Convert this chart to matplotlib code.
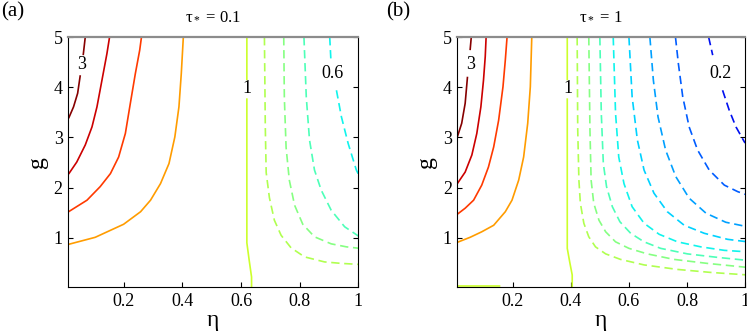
import numpy as np
import matplotlib.pyplot as plt

plt.rcParams['font.family'] = ['Liberation Serif', 'DejaVu Serif']
plt.rcParams['mathtext.fontset'] = 'custom'
plt.rcParams['mathtext.rm'] = 'Liberation Serif'
plt.rcParams['mathtext.it'] = 'Liberation Serif'

nan = float('nan')

# contour lines, (eta, g) points; nan marks a label gap
# panel (a), tau* = 0.1
a_30 = [(0.011, 3.38), (0.028, 3.61), (0.042, 3.88), (0.051, 4.24), (nan, nan),
        (0.061, 4.64), (0.068, 5.0)]
a_25 = [(0.011, 2.27), (0.039, 2.51), (0.068, 2.85), (0.091, 3.21), (0.108, 3.61),
        (0.125, 4.14), (0.142, 4.67), (0.151, 5.0)]
a_20 = [(0.011, 1.52), (0.074, 1.75), (0.119, 2.02), (0.154, 2.28), (0.182, 2.61),
        (0.205, 3.08), (0.222, 3.68), (0.239, 4.27), (0.254, 4.74), (0.260, 5.0)]
a_15 = [(0.011, 0.87), (0.102, 1.01), (0.199, 1.27), (0.257, 1.52), (0.291, 1.75),
        (0.325, 2.08), (0.354, 2.48), (0.374, 3.01), (0.388, 3.61), (0.396, 4.27),
        (0.403, 5.0)]
a_10 = [(0.620, 5.0), (0.620, 4.14), (nan, nan), (0.620, 3.78), (0.620, 2.0),
        (0.620, 0.9), (0.628, 0.55), (0.636, 0.22), (0.636, 0.02)]
a_09 = [(0.680, 5.0), (0.683, 3.2), (0.686, 2.3), (0.697, 1.8), (0.714, 1.35),
        (0.737, 1.05), (0.771, 0.80), (0.817, 0.62), (0.885, 0.52), (0.943, 0.49),
        (1.005, 0.47)]
a_08 = [(0.746, 5.0), (0.748, 3.8), (0.754, 2.8), (0.765, 2.15), (0.783, 1.65),
        (0.811, 1.27), (0.851, 1.02), (0.908, 0.88), (0.96, 0.82), (1.005, 0.79)]
a_07 = [(0.815, 5.0), (0.823, 3.8), (0.834, 2.95), (0.851, 2.35), (0.874, 1.95),
        (0.908, 1.55), (0.954, 1.22), (1.005, 1.02)]
a_06 = [(0.903, 5.0), (0.907, 4.55), (nan, nan), (0.926, 3.94), (0.943, 3.41),
        (0.966, 2.88), (0.994, 2.35), (1.005, 2.22)]

# panel (b), tau* = 1
b_30 = [(0.010, 3.01), (0.025, 3.28), (0.037, 3.68), (0.045, 4.21), (nan, nan),
        (0.054, 4.74), (0.058, 5.0)]
b_25 = [(0.010, 2.08), (0.037, 2.31), (0.060, 2.65), (0.077, 3.08), (0.091, 3.61),
        (0.100, 4.14), (0.106, 4.61), (0.109, 5.0)]
b_20 = [(0.010, 1.47), (0.037, 1.59), (0.066, 1.75), (0.094, 2.05), (0.117, 2.41),
        (0.135, 2.81), (0.152, 3.34), (0.167, 4.01), (0.175, 4.54), (0.181, 5.0)]
b_15 = [(0.010, 0.91), (0.054, 1.01), (0.094, 1.12), (0.135, 1.25), (0.175, 1.52),
        (0.198, 1.75), (0.221, 2.15), (0.238, 2.61), (0.252, 3.28), (0.261, 4.01),
        (0.266, 5.0)]
b_10 = [(0.388, 5.0), (0.388, 4.14), (nan, nan), (0.388, 3.78), (0.388, 0.79),
        (0.397, 0.5), (0.405, 0.26), (0.405, 0.02), (nan, nan),
        (0.010, 0.04), (0.158, 0.04)]
b_09 = [(0.422, 5.0), (0.424, 3.15), (0.428, 2.15), (0.433, 1.69), (0.445, 1.29),
        (0.462, 1.02), (0.485, 0.82), (0.520, 0.68), (0.571, 0.57), (0.652, 0.46),
        (0.767, 0.37), (0.882, 0.31), (1.008, 0.26)]
b_08 = [(0.462, 5.0), (0.466, 3.15), (0.470, 2.15), (0.479, 1.69), (0.497, 1.35),
        (0.520, 1.12), (0.554, 0.92), (0.600, 0.79), (0.663, 0.68), (0.755, 0.57),
        (0.870, 0.49), (1.008, 0.41)]
b_07 = [(0.500, 5.0), (0.505, 3.48), (0.512, 2.48), (0.523, 2.02), (0.543, 1.62),
        (0.569, 1.32), (0.606, 1.09), (0.652, 0.92), (0.709, 0.79), (0.801, 0.68),
        (0.905, 0.61), (1.008, 0.55)]
b_06 = [(0.546, 5.0), (0.554, 3.48), (0.565, 2.61), (0.583, 2.08), (0.611, 1.62),
        (0.652, 1.29), (0.704, 1.07), (0.767, 0.92), (0.847, 0.82), (0.928, 0.75),
        (1.008, 0.72)]
b_05 = [(0.600, 5.0), (0.611, 3.81), (0.629, 2.95), (0.652, 2.35), (0.686, 1.89),
        (0.732, 1.52), (0.790, 1.25), (0.859, 1.09), (0.939, 0.97), (1.008, 0.92)]
b_04 = [(0.672, 5.0), (0.684, 4.14), (0.700, 3.41), (0.726, 2.75), (0.761, 2.22),
        (0.807, 1.79), (0.865, 1.49), (0.933, 1.31), (1.008, 1.22)]
b_03 = [(0.760, 5.0), (0.770, 4.47), (0.785, 3.81), (0.807, 3.21), (0.836, 2.75),
        (0.876, 2.35), (0.928, 2.05), (0.974, 1.92), (1.008, 1.85)]
b_02 = [(0.874, 5.0), (0.888, 4.64), (nan, nan), (0.922, 3.94), (0.945, 3.54),
        (0.968, 3.21), (0.997, 2.91), (1.008, 2.85)]

levels_a = [3, 2.5, 2, 1.5, 1, 0.9, 0.8, 0.7, 0.6]
lines_a = [a_30, a_25, a_20, a_15, a_10, a_09, a_08, a_07, a_06]
levels_b = [3, 2.5, 2, 1.5, 1, 0.9, 0.8, 0.7, 0.6, 0.5, 0.4, 0.3, 0.2]
lines_b = [b_30, b_25, b_20, b_15, b_10, b_09, b_08, b_07, b_06, b_05, b_04, b_03, b_02]

# inline labels: text, eta, g
labels_a = [('3', 0.056, 4.45), ('1', 0.621, 3.97), ('0.6', 0.914, 4.27)]
labels_b = [('3', 0.055, 4.45), ('1', 0.390, 3.97), ('0.2', 0.914, 4.27)]

titles = ['τ$_*$ = 0.1', 'τ$_*$ = 1']
tags = ['(a)', '(b)']
xticks = [0.2, 0.4, 0.6, 0.8, 1.0]
xticklabels = ['0.2', '0.4', '0.6', '0.8', '1']
yticks = [1, 2, 3, 4, 5]

colors = {3: '#860000', 2.5: '#cc0000', 2: '#ff3a00', 1.5: '#ff9c00',
          1: '#ccff2c', 0.9: '#b0ff50', 0.8: '#86ff82', 0.7: '#4dffb8',
          0.6: '#10f4ec', 0.5: '#00d2ff', 0.4: '#00a0ff', 0.3: '#005cff',
          0.2: '#0010f0'}

fig = plt.figure(figsize=(7.47, 3.35), dpi=100)
ax_a = fig.add_axes([0.0914, 0.1433, 0.388, 0.746])
ax_b = fig.add_axes([0.6122, 0.1433, 0.3855, 0.746])

for ax, levels, lines, labels, title, tag, tx in zip(
        [ax_a, ax_b], [levels_a, levels_b], [lines_a, lines_b],
        [labels_a, labels_b], titles, tags, [0.002, 0.517]):
    for lev, pts in zip(levels, lines):
        x, y = np.array(pts).T
        if lev >= 1:
            ax.plot(x, y, color=colors[lev], lw=1.2, solid_capstyle='butt')
        else:
            ax.plot(x, y, color=colors[lev], lw=1.2, dashes=(5, 2.8))
    for txt, xx, yy in labels:
        ax.text(xx, yy, txt, fontsize=13, ha='center', va='center')
    ax.set_xlim(0.01, 1.0)
    ax.set_ylim(0.02, 5.0)
    ax.set_xticks(xticks)
    ax.set_xticklabels(xticklabels)
    ax.set_yticks(yticks)
    ax.tick_params(direction='in', length=3.5, width=0.8, labelsize=13,
                   right=True, top=False, pad=4)
    for s in ['left', 'bottom', 'right']:
        ax.spines[s].set_linewidth(0.8)
    ax.spines['top'].set_color('#8c8c8c')
    ax.spines['top'].set_linewidth(1.6)
    ax.set_xlabel('η', fontsize=17, labelpad=0)
    ax.set_ylabel('g', fontsize=17, labelpad=4)
    ax.set_title(title, fontsize=12, pad=12)
    fig.text(tx, 0.994, tag, fontsize=15, ha='left', va='top')

fig.savefig('out.png', dpi=100)
